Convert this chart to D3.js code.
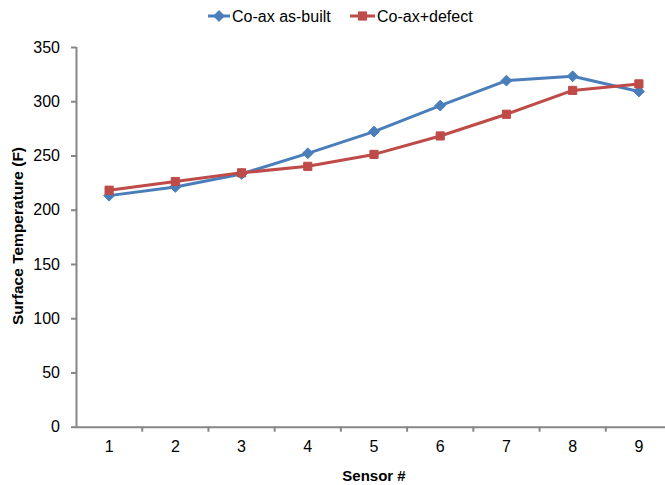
<!DOCTYPE html>
<html>
<head>
<meta charset="utf-8">
<script src="https://cdn.jsdelivr.net/npm/d3@7/dist/d3.min.js"></script>
<style>
  html, body { margin: 0; padding: 0; background: #fff; }
  svg { display: block; font-family: "Liberation Sans", Arial, sans-serif; }
</style>
</head>
<body>
<svg id="chart" width="665" height="485"></svg>
<script>
// Sensor positions along the cable and measured surface temperatures (°F)
const sensors = ["1", "2", "3", "4", "5", "6", "7", "8", "9"];
const asBuilt = [213, 221, 233, 252, 272, 296, 319, 323, 309];
const withDefect = [218, 226, 234, 240, 251, 268, 288, 310, 316];
const yTicks = [0, 50, 100, 150, 200, 250, 300, 350];

const series = [
  { name: "Co-ax as-built", values: asBuilt, color: "#4a7ebb", marker: "diamond" },
  { name: "Co-ax+defect", values: withDefect, color: "#be4b48", marker: "square" }
];

const svg = d3.select("#chart");
const plotLeft = 76, plotTop = 47, plotBottom = 426.7, plotRight = 672;

const x = d3.scaleBand().domain(sensors).range([plotLeft, plotRight]);
const y = d3.scaleLinear().domain([0, 350]).range([plotBottom, plotTop]);
const axisColor = "#868686";

// y axis
const gy = svg.append("g")
  .attr("transform", `translate(${plotLeft},0)`)
  .call(d3.axisLeft(y).tickValues(yTicks).tickSize(5).tickSizeOuter(0).tickPadding(11));
// x axis: ticks on band boundaries, labels centred in bands
const gx = svg.append("g")
  .attr("transform", `translate(0,${plotBottom})`)
  .call(d3.axisBottom(x).tickSize(0).tickPadding(14));
gx.selectAll(".tick").filter((d, i) => i > 0).append("line")
  .attr("x1", -x.bandwidth() / 2).attr("x2", -x.bandwidth() / 2)
  .attr("y1", 0).attr("y2", 5);

[gx, gy].forEach(g => {
  g.select(".domain").attr("stroke", axisColor).attr("stroke-width", 2);
  g.selectAll(".tick line").attr("stroke", axisColor).attr("stroke-width", 2);
  g.selectAll(".tick text").attr("fill", "#000").attr("font-size", 16)
    .attr("font-family", "Liberation Sans, Arial, sans-serif");
});
gx.select(".domain").attr("d", `M${plotLeft},0.5H${plotRight}`);
gy.select(".domain").attr("d", `M0.5,${plotTop}V${plotBottom}`);

// axis titles
svg.append("text")
  .attr("x", 374).attr("y", 481)
  .attr("text-anchor", "middle")
  .attr("font-size", 15).attr("font-weight", "bold")
  .text("Sensor #");
svg.append("text")
  .attr("transform", `translate(23,236) rotate(-90)`)
  .attr("text-anchor", "middle")
  .attr("font-size", 15.5).attr("font-weight", "bold")
  .text("Surface Temperature (F)");

const symbols = {
  diamond: d3.symbol().type(d3.symbolDiamond2).size(75),
  square: d3.symbol().type(d3.symbolSquare2).size(85)
};

const line = d3.line()
  .x((d, i) => x(sensors[i]) + x.bandwidth() / 2)
  .y(d => y(d));

series.forEach(s => {
  svg.append("path")
    .datum(s.values)
    .attr("fill", "none")
    .attr("stroke", s.color)
    .attr("stroke-width", 3)
    .attr("stroke-linejoin", "round")
    .attr("d", line);
  svg.append("g").selectAll("path")
    .data(s.values)
    .join("path")
    .attr("d", symbols[s.marker])
    .attr("fill", s.color)
    .attr("stroke", s.color)
    .attr("stroke-width", 1)
    .attr("transform", (d, i) => `translate(${x(sensors[i]) + x.bandwidth() / 2},${y(d)})`);
});

// legend
const legendItems = [
  { s: series[0], lx: 208, tx: 232 },
  { s: series[1], lx: 350, tx: 377 }
];
legendItems.forEach(({ s, lx, tx }) => {
  const g = svg.append("g");
  g.append("line")
    .attr("x1", lx).attr("x2", tx - 2)
    .attr("y1", 16).attr("y2", 16)
    .attr("stroke", s.color).attr("stroke-width", 3);
  g.append("path")
    .attr("d", symbols[s.marker])
    .attr("fill", s.color).attr("stroke", s.color)
    .attr("transform", `translate(${(lx + tx - 2) / 2},16)`);
  g.append("text")
    .attr("x", tx).attr("y", 22)
    .attr("font-size", 16)
    .text(s.name);
});
</script>
</body>
</html>
